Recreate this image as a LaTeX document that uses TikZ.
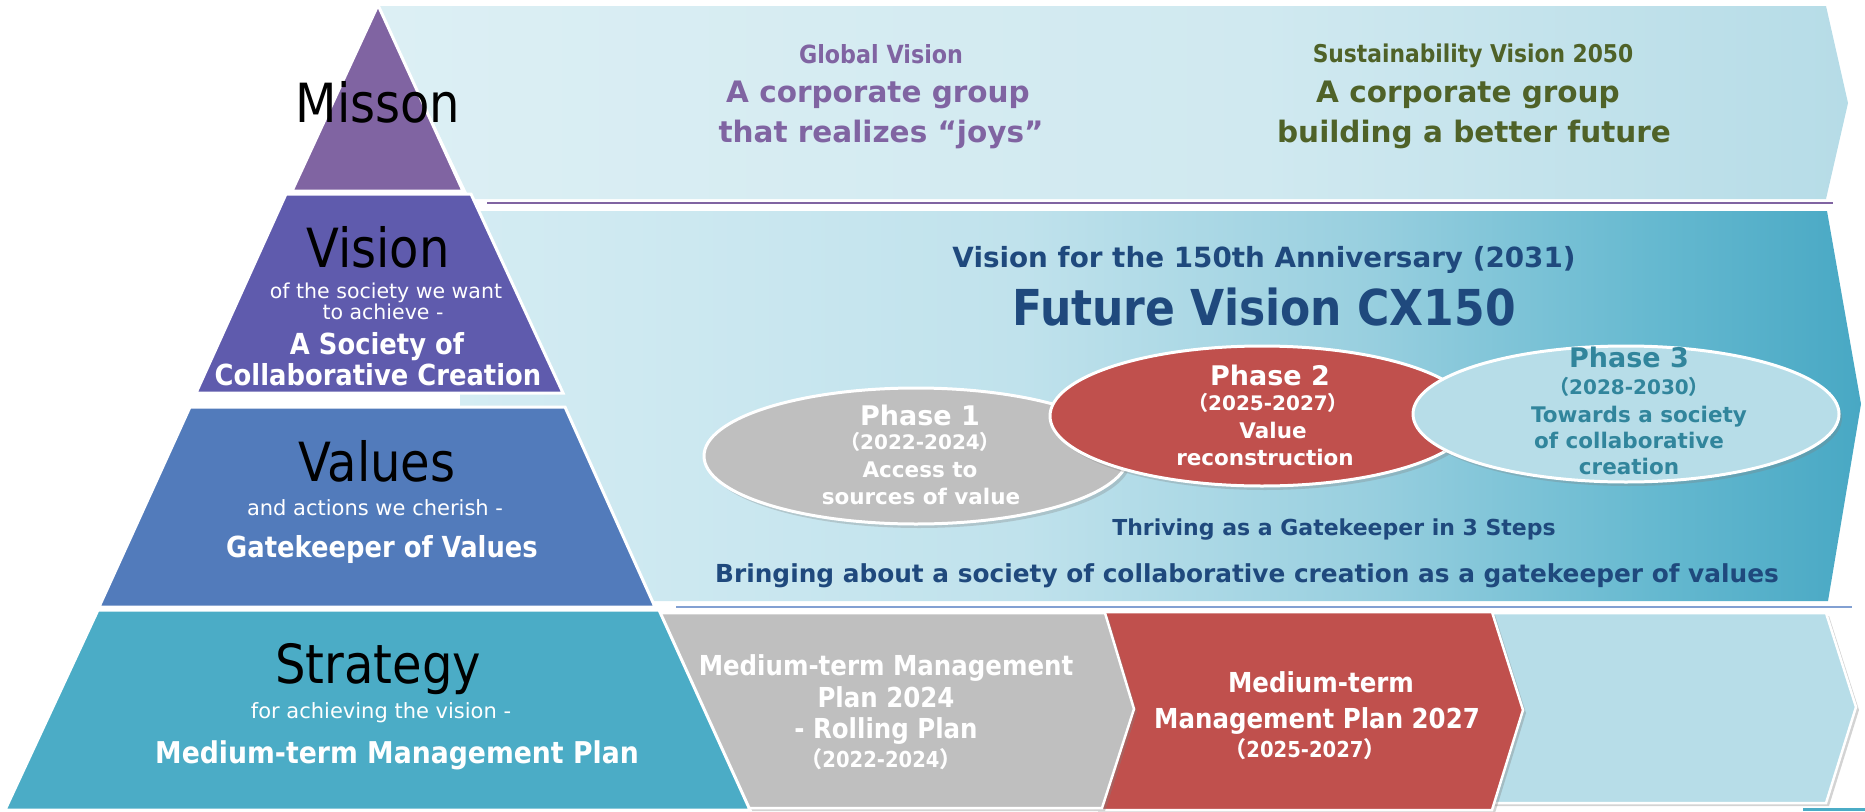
\documentclass[tikz,border=0pt]{standalone}
\usepackage{fontspec}
\setmainfont{DejaVu Sans}
\newfontfamily\uifont[FakeStretch=0.89]{DejaVu Sans}
\newfontfamily\cjkfont{Noto Sans CJK JP}
\usetikzlibrary{shapes.geometric,shadows}
\newcommand\fs[1]{\fontsize{#1}{#1}\selectfont}
\newcommand\jlp{{\cjkfont （}}
\newcommand\jrp{{\cjkfont ）}}
\definecolor{misc}{RGB}{128,100,162}
\definecolor{visc}{RGB}{95,91,173}
\definecolor{valc}{RGB}{82,123,187}
\definecolor{stratc}{RGB}{75,172,198}
\definecolor{gvpurple}{RGB}{128,100,162}
\definecolor{svgreen}{RGB}{79,98,40}
\definecolor{navy}{RGB}{31,73,125}
\definecolor{tealtxt}{RGB}{49,133,156}
\definecolor{grayc}{RGB}{191,191,191}
\definecolor{redc}{RGB}{192,80,77}
\definecolor{lbluec}{RGB}{183,221,232}
\definecolor{lineblue}{RGB}{130,160,210}
\definecolor{tb0}{RGB}{220,239,244}
\definecolor{tb1}{RGB}{208,233,240}
\definecolor{tb2}{RGB}{182,220,231}
\definecolor{vb0}{RGB}{212,236,243}
\definecolor{vb1}{RGB}{192,226,236}
\definecolor{vb2}{RGB}{152,207,223}
\definecolor{vb3}{RGB}{102,185,208}
\definecolor{vb4}{RGB}{72,168,196}
\pgfdeclarehorizontalshading{topband}{100bp}{color(0bp)=(tb0); color(25bp)=(tb0); color(55bp)=(tb1); color(75bp)=(tb2); color(100bp)=(tb2)}
\pgfdeclarehorizontalshading{visband}{100bp}{color(0bp)=(vb0); color(25bp)=(vb0); color(45bp)=(vb1); color(57.5bp)=(vb2); color(67.5bp)=(vb3); color(75bp)=(vb4); color(100bp)=(vb4)}
\begin{document}
\begin{tikzpicture}[x=1pt, y=-1pt,
  every node/.style={inner sep=0pt, outer sep=0pt},
  lbl/.style={anchor=base, align=center},
  biglabel/.style={lbl, font=\uifont\fs{54}, text=black},
  smallwhite/.style={lbl, font=\fs{21}, text=white},
  pyrbold/.style={lbl, font=\uifont\bfseries\fs{29}, text=white},
  layer/.style={draw=white, line width=3pt, line join=miter},
  chev/.style={draw=white, line width=2.5pt, drop shadow={shadow xshift=3pt, shadow yshift=-3pt, opacity=0.35}},
  phase/.style={ellipse, draw=white, line width=3pt, drop shadow={shadow xshift=3pt, shadow yshift=-4pt, opacity=0.3}},
  phtitle/.style={lbl, font=\bfseries\fs{27}},
  phyear/.style={lbl, font=\bfseries\fs{20}},
  phtext/.style={lbl, font=\bfseries\fs{21.5}},
  chevtext/.style={lbl, font=\uifont\bfseries\fs{27.5}, text=white},
  chevyear/.style={lbl, font=\uifont\bfseries\fs{22}, text=white}]
\useasboundingbox (0,0) rectangle (1865,811);

% bands
\shade[shading=topband] (378,6) -- (1826,6) -- (1848,103) -- (1826,199) -- (470,199) -- cycle;
\shade[shading=visband] (460,211) -- (1827,211) -- (1861,404) -- (1828,601) -- (460,601) -- cycle;
\draw[misc, line width=2pt] (487,203) -- (1833,203);
\draw[lineblue, line width=2pt] (676,607) -- (1852,607);

% strategy chevrons
\fill[stratc] (1803,808) rectangle (1865,811);
\path[chev, fill=lbluec] (1480,613) -- (1826,613) -- (1856,707) -- (1826,803) -- (1480,803) -- cycle;
\path[chev, fill=redc] (1095,612) -- (1492,612) -- (1523,710) -- (1492,810) -- (1095,810) -- cycle;
\path[chev, fill=grayc] (655,613) -- (1105,613) -- (1134,709) -- (1102,808) -- (745,808) -- cycle;

% phase ellipses
\node[phase, fill=grayc, minimum width=424pt, minimum height=136pt] (ph1) at (916,456) {};
\node[phase, fill=redc, minimum width=424pt, minimum height=140pt] (ph2) at (1262,416) {};
\node[phase, fill=lbluec, minimum width=426pt, minimum height=136pt] (ph3) at (1626,414) {};

% pyramid
\path[layer, fill=misc] (378,5) -- (463,191) -- (292,191) -- cycle;
\path[layer, fill=visc] (286,194) -- (471,194) -- (563,393) -- (196,393) -- cycle;
\path[layer, fill=valc] (190,407) -- (565,407) -- (655,607) -- (99,607) -- cycle;
\path[layer, fill=stratc] (98,610) -- (659,610) -- (750,810) -- (5,810) -- cycle;

% pyramid texts
\node[biglabel] (tmis) at (378,122) {Misson};
\node[biglabel] (tvis) at (378,267) {Vision};
\node[smallwhite, font=\fs{20.5}] (tvis1) at (386,298) {of the society we want};
\node[smallwhite, font=\fs{20.5}] (tvis2) at (383,319) {to achieve -};
\node[pyrbold] (tvis3) at (377,354) {A Society of};
\node[pyrbold] (tvis4) at (378,385) {Collaborative Creation};
\node[biglabel] (tval) at (377,481) {Values};
\node[smallwhite] (tval1) at (375,515) {and actions we cherish -};
\node[pyrbold] (tval2) at (382,557) {Gatekeeper of Values};
\node[biglabel] (tstr) at (378,683) {Strategy};
\node[smallwhite] (tstr1) at (381,718) {for achieving the vision -};
\node[pyrbold, font=\uifont\bfseries\fs{30}] (tstr2) at (397,763) {Medium-term Management Plan};

% mission band texts
\node[lbl, font=\uifont\bfseries\fs{25}, text=gvpurple] (gv0) at (881,63) {Global Vision};
\node[lbl, font=\bfseries\fs{29.5}, text=gvpurple] (gv1) at (878,102) {A corporate group};
\node[lbl, font=\bfseries\fs{29.5}, text=gvpurple] (gv2) at (881,142) {that realizes “joys”};
\node[lbl, font=\uifont\bfseries\fs{24.5}, text=svgreen] (sv0) at (1473,62) {Sustainability Vision 2050};
\node[lbl, font=\bfseries\fs{29.5}, text=svgreen] (sv1) at (1468,102) {A corporate group};
\node[lbl, font=\bfseries\fs{29.5}, text=svgreen] (sv2) at (1474,142) {building a better future};

% vision band texts
\node[lbl, font=\bfseries\fs{27.8}, text=navy] (fv0) at (1264,267) {Vision for the 150th Anniversary (2031)};
\node[lbl, font=\uifont\bfseries\fs{49.5}, text=navy] (fv1) at (1264,325) {Future Vision CX150};

\node[phtitle, text=white] (p1a) at (920,425) {Phase 1};
\node[phyear, text=white] (p1b) at (920,449) {\jlp 2022-2024\jrp};
\node[phtext, text=white] (p1c) at (920,477) {Access to};
\node[phtext, text=white] (p1d) at (921,504) {sources of value};

\node[phtitle, text=white] (p2a) at (1270,385) {Phase 2};
\node[phyear, text=white] (p2b) at (1268,410) {\jlp 2025-2027\jrp};
\node[phtext, text=white] (p2c) at (1273,438) {Value};
\node[phtext, text=white] (p2d) at (1265,465) {reconstruction};

\node[phtitle, text=tealtxt] (p3a) at (1629,367) {Phase 3};
\node[phyear, text=tealtxt] (p3b) at (1629,394) {\jlp 2028-2030\jrp};
\node[phtext, text=tealtxt] (p3c) at (1639,422) {Towards a society};
\node[phtext, text=tealtxt] (p3d) at (1629,448) {of collaborative};
\node[phtext, text=tealtxt] (p3e) at (1629,474) {creation};

\node[lbl, font=\bfseries\fs{22}, text=navy] (thr) at (1334,535) {Thriving as a Gatekeeper in 3 Steps};
\node[lbl, font=\bfseries\fs{24.8}, text=navy] (bri) at (1247,582) {Bringing about a society of collaborative creation as a gatekeeper of values};

% chevron texts
\node[chevtext] (g1) at (886,675) {Medium-term Management};
\node[chevtext] (g2) at (886,707) {Plan 2024};
\node[chevtext] (g3) at (886,738) {- Rolling Plan};
\node[chevyear] (g4) at (881,767) {\jlp 2022-2024\jrp};
\node[chevtext] (r1) at (1321,692) {Medium-term};
\node[chevtext] (r2) at (1317,728) {Management Plan 2027};
\node[chevyear] (r3) at (1305,757) {\jlp 2025-2027\jrp};
\end{tikzpicture}
\end{document}
